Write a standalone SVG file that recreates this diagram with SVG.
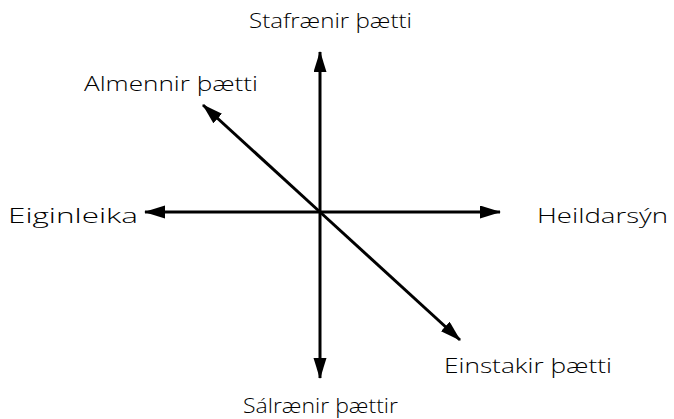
<svg xmlns="http://www.w3.org/2000/svg" width="674" height="419" viewBox="0 0 674 419">
<style>
.lbl{font-family:"Open Sans","DejaVu Sans",sans-serif;font-weight:300;font-size:21px;fill:#000}
.ax{stroke:#000;stroke-width:3;fill:none;marker-end:url(#ah)}
</style>
<defs>
<marker id="ah" markerUnits="userSpaceOnUse" markerWidth="22" markerHeight="14" refX="20" refY="6.5" orient="auto">
<path d="M0,0 L21,6.5 L0,13 Z" fill="#000"/>
</marker>
</defs>
<rect width="674" height="419" fill="#fff"/>
<g id="connectors">
<line class="ax" x1="320" y1="212" x2="320" y2="52"/>
<line class="ax" x1="320" y1="212" x2="320" y2="378"/>
<line class="ax" x1="320" y1="212" x2="145" y2="212"/>
<line class="ax" x1="320" y1="212" x2="500" y2="212"/>
<line class="ax" x1="320" y1="212" x2="203" y2="105"/>
<line class="ax" x1="320" y1="212" x2="460" y2="340"/>
</g>
<g id="top"><text class="lbl" x="249" y="28" textLength="163" lengthAdjust="spacingAndGlyphs">Stafrænir þætti</text></g>
<g id="topleft"><text class="lbl" x="84" y="91" textLength="174" lengthAdjust="spacingAndGlyphs">Almennir þætti</text></g>
<g id="left"><text class="lbl" x="8" y="223" textLength="130" lengthAdjust="spacingAndGlyphs">Eiginleika</text></g>
<g id="right"><text class="lbl" x="537" y="223" textLength="131" lengthAdjust="spacingAndGlyphs">Heildarsýn</text></g>
<g id="bottomright"><text class="lbl" x="444" y="373" textLength="168" lengthAdjust="spacingAndGlyphs">Einstakir þætti</text></g>
<g id="bottom"><text class="lbl" x="243" y="413" textLength="155" lengthAdjust="spacingAndGlyphs">Sálrænir þættir</text></g>
</svg>
